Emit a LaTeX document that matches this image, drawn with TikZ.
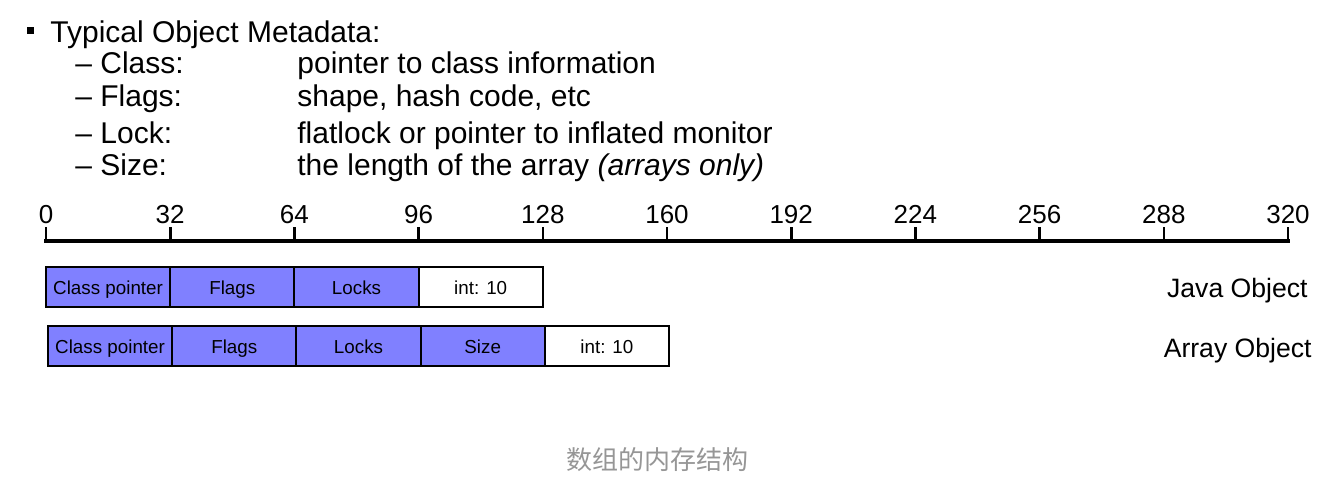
\documentclass[tikz,border=0pt]{standalone}
\usepackage{fontspec}
\setmainfont{Liberation Sans}
\newfontfamily\cjk{Noto Sans CJK SC}
\usepackage{xcolor}
\usetikzlibrary{positioning}
\definecolor{fldfill}{RGB}{128,128,255}
\definecolor{capgray}{RGB}{150,150,150}
\tikzset{
  field/.style={
    draw=black, line width=1pt, outer sep=0pt, inner sep=0pt,
    minimum width=62.1pt, minimum height=20pt, text height=9pt, text depth=2pt,
    font=\fontsize{9.4}{11}\selectfont
  },
  meta/.style={field, fill=fldfill},
  data/.style={field, fill=white},
  tick/.style={line width=1.3pt},
  axis/.style={line width=1.6pt, line cap=rect},
  ticklbl/.style={anchor=base, font=\fontsize{13}{15}\selectfont, inner sep=0pt},
  item/.style={anchor=base west, inner sep=0pt, font=\fontsize{15}{18}\selectfont},
  objlbl/.style={anchor=base east, inner sep=0pt, font=\fontsize{13.3}{16}\selectfont}
}

\begin{document}
\begin{tikzpicture}[x=0.5pt,y=-0.5pt]
  \useasboundingbox (0,0) rectangle (1324,482);
  % metadata list
  \fill (27,27) rectangle (34,34);
  \node[item] (title) at (50,42) {Typical Object Metadata:};
  \node[item] (cls) at (75,73) {\textendash{} Class:};
  \node[item] (clsd) at (297,73) {pointer to class information};
  \node[item] (flg) at (75,106) {\textendash{} Flags:};
  \node[item] (flgd) at (297,106) {shape, hash code, etc};
  \node[item] (lck) at (75,143) {\textendash{} Lock:};
  \node[item] (lckd) at (297,143) {flatlock or pointer to inflated monitor};
  \node[item] (siz) at (75,175) {\textendash{} Size:};
  \node[item] (sizd) at (297,175) {the length of the array \textit{(arrays only)}};

  % bit ruler
  \coordinate (a0) at (46,241);
  \coordinate (a1) at (1288,241);
  \draw[axis] (a0) -- (a1);
  \foreach \i in {0,...,10} {
    \pgfmathtruncatemacro{\bits}{32*\i}
    \coordinate (t\i) at (46+124.2*\i,241);
    \draw[tick] (t\i) -- ++(0,-14);
    \node[ticklbl] (l\i) at (46+124.2*\i,223) {\bits};
  }

  % java object
  \node[meta, anchor=west] (jcls) at (46,287) {Class pointer};
  \node[meta, right=0pt of jcls] (jflg) {Flags};
  \node[meta, right=0pt of jflg] (jlck) {Locks};
  \node[data, right=0pt of jlck] (jint) {int: 10};
  \node[objlbl] (jlbl) at (1308,297) {Java Object};

  % array object
  \node[meta, anchor=west] (acls) at (48,346) {Class pointer};
  \node[meta, right=0pt of acls] (aflg) {Flags};
  \node[meta, right=0pt of aflg] (alck) {Locks};
  \node[meta, right=0pt of alck] (asiz) {Size};
  \node[data, right=0pt of asiz] (aint) {int: 10};
  \node[objlbl] (albl) at (1312,357) {Array Object};

  \node[text=capgray, font=\cjk\fontsize{13}{15}\selectfont] (cap) at (657,460) {数组的内存结构};
\end{tikzpicture}
\end{document}
